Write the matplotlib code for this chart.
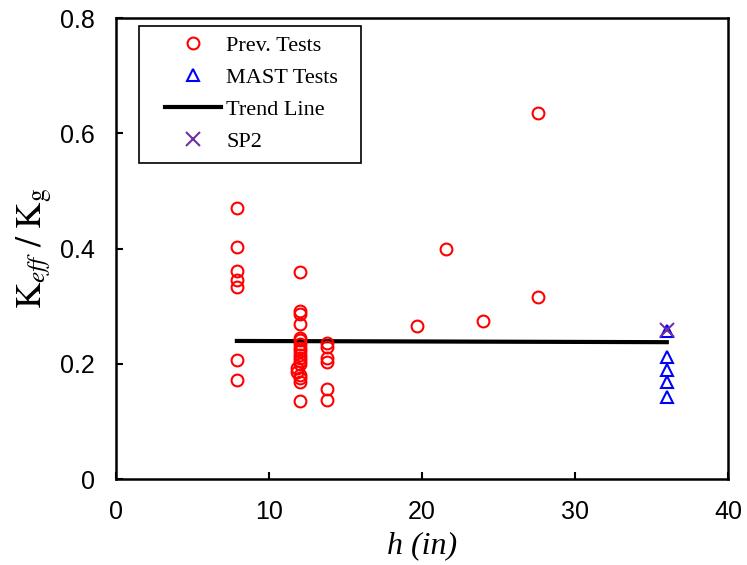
import matplotlib
matplotlib.use("Agg")
import matplotlib.pyplot as plt
from matplotlib.patches import Rectangle

plt.rcParams['mathtext.fontset'] = 'stix'

prev_h = [7.9, 7.9, 7.9, 7.9, 7.9, 7.9, 7.9,
          12, 12, 12, 12, 12, 12, 12, 12, 12, 12, 12, 12, 12, 11.8, 11.8, 12, 12, 12, 12,
          13.8, 13.8, 13.8, 13.8, 13.8, 13.8,
          19.7, 21.6, 24.0, 27.6, 27.6]
prev_k = [0.470, 0.403, 0.361, 0.345, 0.333, 0.207, 0.172,
          0.359, 0.292, 0.286, 0.269, 0.245, 0.241, 0.235, 0.228, 0.222, 0.215, 0.210, 0.205, 0.200,
          0.193, 0.186, 0.180, 0.175, 0.168, 0.135,
          0.236, 0.229, 0.210, 0.203, 0.157, 0.137,
          0.266, 0.399, 0.274, 0.635, 0.316]

mast_h = [36, 36, 36, 36, 36]
mast_k = [0.257, 0.212, 0.189, 0.169, 0.143]

trend_h = [7.9, 36]
trend_k = [0.2396, 0.2375]

sp2_h = [36]
sp2_k = [0.259]

fig = plt.figure(figsize=(7.47, 5.65), dpi=100)
ax = fig.add_axes([0.1553, 0.1522, 0.8193, 0.8158])

ax.plot(prev_h, prev_k, linestyle='none', marker='o', markersize=8.5, markerfacecolor='none',
        markeredgecolor='#FF0000', markeredgewidth=1.5, label='Prev. Tests', zorder=3)
ax.plot(mast_h, mast_k, linestyle='none', marker='^', markersize=9, markerfacecolor='none',
        markeredgecolor='#0000FF', markeredgewidth=1.5, label='MAST Tests', zorder=3)
ax.plot(trend_h, trend_k, color='black', linewidth=3, label='Trend Line', zorder=2)
ax.plot(sp2_h, sp2_k, linestyle='none', marker='x', markersize=10, markeredgecolor='#7030A0',
        markeredgewidth=1.5, label='SP2', zorder=4)

ax.set_xlim(0, 40)
ax.set_ylim(0, 0.8)
ax.set_xticks([0, 10, 20, 30, 40])
ax.set_yticks([0, 0.2, 0.4, 0.6, 0.8])
ax.set_xticklabels(['0', '10', '20', '30', '40'], fontfamily='Liberation Sans', fontsize=18)
ax.set_yticklabels(['0', '0.2', '0.4', '0.6', '0.8'], fontfamily='Liberation Sans', fontsize=18)
ax.tick_params(axis='y', direction='in', length=5, width=1.5, pad=15, right=False)
ax.tick_params(axis='x', direction='in', length=5, width=1.5, pad=15, top=False)
for s in ax.spines.values():
    s.set_linewidth(1.8)

ax.set_xlabel('h (in)', fontfamily='Liberation Serif', fontstyle='italic', fontsize=23, labelpad=5)
ax.set_ylabel(r'$\mathrm{K}_{\mathit{eff}}\ /\ \mathrm{K}_{\mathrm{g}}$', fontsize=26, labelpad=4)

leg = ax.legend(loc='upper left', bbox_to_anchor=(0.080, 0.9631), prop={'family': 'Liberation Serif', 'size': 16},
                frameon=False, handlelength=2.5, handletextpad=0.25,
                borderpad=0, labelspacing=0.52, borderaxespad=0)
ax.add_patch(Rectangle((0.0376, 0.6855), 0.3627, 0.2972, transform=ax.transAxes, fill=False,
                       edgecolor='black', linewidth=1.2, zorder=5))

fig.savefig('out.png', dpi=100)
